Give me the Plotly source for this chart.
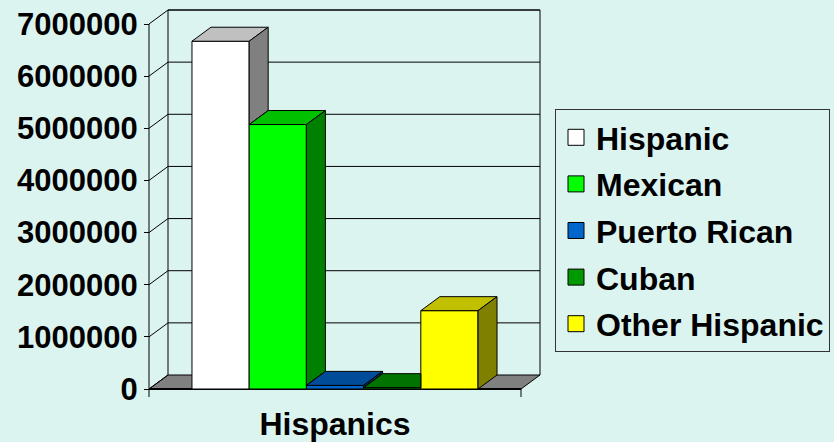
import plotly.graph_objects as go

# ---------------- data ----------------
categories = ["Hispanic", "Mexican", "Puerto Rican", "Cuban", "Other Hispanic"]
values = [6669666, 5071963, 69504, 25705, 1502494]
group_label = ["Hispanics"]
y_tickvals = [0, 1000000, 2000000, 3000000, 4000000, 5000000, 6000000, 7000000]
y_ticktext = ["0", "1000000", "2000000", "3000000", "4000000", "5000000", "6000000", "7000000"]

# ---------------- style ----------------
front_colors = ["#FFFFFF", "#00FF00", "#0066CC", "#009900", "#FFFF00"]
top_colors = ["#C0C0C0", "#00C000", "#004C99", "#007300", "#C0C000"]
side_colors = ["#808080", "#008000", "#003366", "#004C00", "#808000"]
BG = "#DCF4F0"
FONT = "Liberation Sans, Arial, sans-serif"

W, H = 834, 442
PX_X = 372.0                 # pixels per x unit (category band = 1 unit)
PX_Y = 365.0 / 7e6           # pixels per y unit
DX = 19 / PX_X               # depth offset in x units
DY = 14 / PX_Y               # depth offset in y units
PAD_L, PAD_R, PAD_T, PAD_B = 4, 4, 4, 10
M_L = 149 - PAD_L
M_T = 10 - PAD_T
M_B = H - 389 - PAD_B
plot_w = (1 + DX) * PX_X + PAD_L + PAD_R
M_R = W - M_L - plot_w
plot_h = H - M_T - M_B

x_range = [-PAD_L / PX_X, 1 + DX + PAD_R / PX_X]
y_range = [-PAD_B / PX_Y, y_tickvals[-1] + DY + PAD_T / PX_Y]

bargap = 0.231
bw = (1 - bargap) / len(values)
left0 = bargap / 2

fig = go.Figure()

# front faces
for i, (cat, v) in enumerate(zip(categories, values)):
    fig.add_trace(go.Bar(
        x=[left0 + (i + 0.5) * bw], y=[v], width=bw, name=cat,
        marker=dict(color=front_colors[i], line=dict(color="black", width=1)),
        showlegend=False, hovertemplate=cat + ": %{y}<extra></extra>"))

# top and side faces
for i, v in enumerate(values):
    l = left0 + i * bw
    r = l + bw
    nxt = values[i + 1] if i + 1 < len(values) else 0
    if i + 1 < len(values) and nxt > v:
        tx = [l, r, r, l + DX, l]
        ty = [v, v, v + DY, v + DY, v]
    else:
        tx = [l, r, r + DX, l + DX, l]
        ty = [v, v, v + DY, v + DY, v]
    fig.add_trace(go.Scatter(x=tx, y=ty, mode="lines", fill="toself",
                             fillcolor=top_colors[i], line=dict(color="black", width=1),
                             hoverinfo="skip", showlegend=False))
    if v > nxt:
        sx = [r, r, r + DX, r + DX, r]
        sy = [nxt, v, v + DY, nxt + DY, nxt]
        fig.add_trace(go.Scatter(x=sx, y=sy, mode="lines", fill="toself",
                                 fillcolor=side_colors[i], line=dict(color="black", width=1),
                                 hoverinfo="skip", showlegend=False))

# legend entries
for i, cat in enumerate(categories):
    fig.add_trace(go.Scatter(x=[None], y=[None], mode="markers", name=cat,
                             legendgroup=cat,
                             marker=dict(symbol="square", size=20, color=front_colors[i],
                                         line=dict(color="black", width=1))))

ymax = y_tickvals[-1]
shapes = []
# floor
shapes.append(dict(type="path", xref="x", yref="y", layer="below",
                   path=f"M 0,0 L 1,0 L {1 + DX},{DY} L {DX},{DY} Z",
                   fillcolor="#808080", line=dict(color="black", width=1)))
# back wall gridlines and left wall diagonals
for k in y_tickvals:
    if k > 0:
        shapes.append(dict(type="line", xref="x", yref="y", layer="below",
                           x0=DX, x1=1 + DX, y0=k + DY, y1=k + DY,
                           line=dict(color="black", width=1.5 if k == ymax else 1)))
    shapes.append(dict(type="line", xref="x", yref="y", layer="below",
                       x0=0, x1=DX, y0=k, y1=k + DY, line=dict(color="black", width=1)))
# wall verticals
for xx in [DX, 1 + DX]:
    shapes.append(dict(type="line", xref="x", yref="y", layer="below",
                       x0=xx, x1=xx, y0=DY, y1=ymax + DY, line=dict(color="black", width=1)))
# front axis line and floor front edge
shapes.append(dict(type="line", xref="x", yref="y", layer="above",
                   x0=0, x1=0, y0=0, y1=ymax, line=dict(color="black", width=1)))
shapes.append(dict(type="line", xref="x", yref="y", layer="below",
                   x0=0, x1=1, y0=0, y1=0, line=dict(color="black", width=2)))
# category boundary ticks
for xx in [0, 1]:
    shapes.append(dict(type="line", xref="x", yref="y", layer="above",
                       x0=xx, x1=xx, y0=0, y1=-8 / PX_Y, line=dict(color="black", width=1)))

fig.update_layout(
    width=W, height=H,
    margin=dict(l=M_L, r=M_R, t=M_T, b=M_B, autoexpand=False),
    paper_bgcolor=BG, plot_bgcolor=BG,
    barmode="overlay",
    font=dict(family=FONT, size=30, color="black", weight="bold"),
    shapes=shapes,
    showlegend=True,
    legend=dict(x=(555 - M_L) / plot_w, y=(M_T + plot_h - 109) / plot_h,
                xanchor="left", yanchor="top", tracegroupgap=2,
                bgcolor="rgba(0,0,0,0)", bordercolor="#333333", borderwidth=1,
                font=dict(family=FONT, size=32, color="black", weight="bold")),
    xaxis=dict(range=x_range, tickmode="array", tickvals=[0.5], ticktext=group_label,
               ticks="", showline=False, showgrid=False, zeroline=False,
               ticklabelstandoff=3, automargin=False,
               tickfont=dict(family=FONT, size=32, weight="bold")),
    yaxis=dict(range=y_range, tickmode="array", tickvals=y_tickvals, ticktext=y_ticktext,
               anchor="free", position=PAD_L / plot_w, automargin=False,
               ticks="outside", ticklen=5, tickwidth=1, tickcolor="black",
               showline=False, showgrid=False, zeroline=False,
               tickfont=dict(family=FONT, size=31, weight="bold")),
)

fig.write_html("out.html")
